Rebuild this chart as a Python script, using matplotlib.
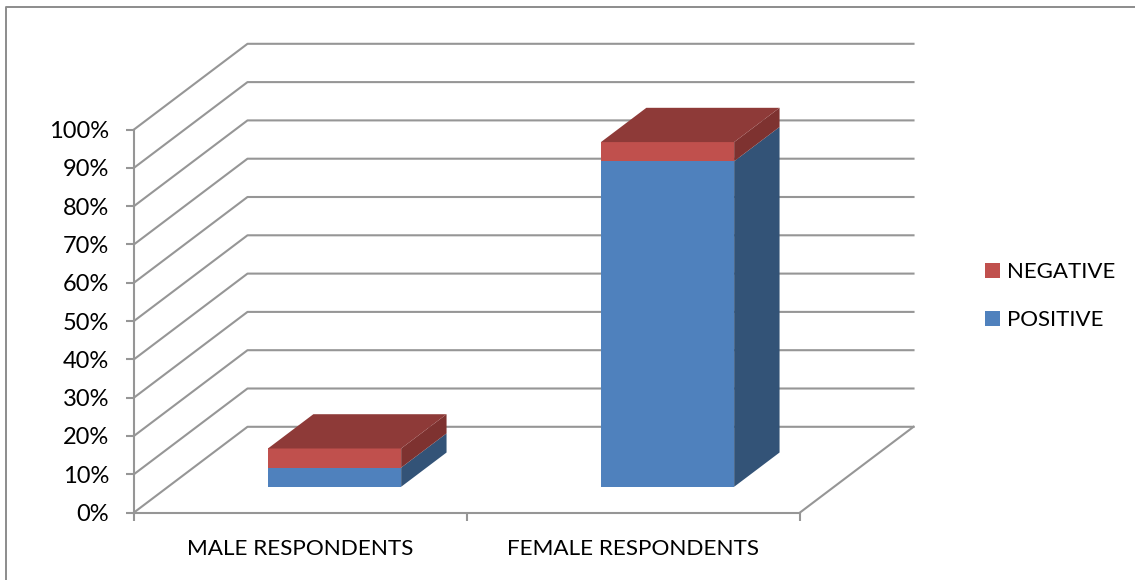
import matplotlib
matplotlib.use("Agg")
from matplotlib import pyplot as plt
from matplotlib.lines import Line2D
from matplotlib.patches import Patch, Polygon

plt.rcParams['font.family'] = ['Lato', 'DejaVu Sans']

# Data
categories = ["MALE RESPONDENTS", "FEMALE RESPONDENTS"]
positive = [5, 85]
negative = [5, 5]
percent_ticks = list(range(0, 101, 10))

W, H = 1135, 580
GRID = "#969696"
BLUE = ("#4F81BD", "#335377")
RED = ("#C0504D", "#7E3230", "#8E3A38")  # front, side, top

# Oblique offset of the back wall, in data units
DEPTH_X = 113.5 / 333
DEPTH_Y = 85.7 / 3.83


def proj(x, y, d):
    # d is 0 at the front of the floor and 1 at the back wall
    return (x + d * DEPTH_X, y + d * DEPTH_Y)


def draw_box(ax, left, right, y0, y1, front, side):
    ax.add_patch(Polygon([proj(left, y0, 0.3), proj(right, y0, 0.3),
                          proj(right, y1, 0.3), proj(left, y1, 0.3)],
                         facecolor=front, edgecolor="none", clip_on=False, zorder=3))
    ax.add_patch(Polygon([proj(right, y0, 0.3), proj(right, y0, 0.7),
                          proj(right, y1, 0.7), proj(right, y1, 0.3)],
                         facecolor=side, edgecolor="none", clip_on=False, zorder=3))


fig = plt.figure(figsize=(W / 100, H / 100), dpi=100)
ax = fig.add_axes([134 / W, 1 - 512.5 / H, 666 / W, 383 / H])
ax.set_xlim(0, len(categories))
ax.set_ylim(0, 100)
ax.patch.set_visible(False)

# Walls and floor
for p in percent_ticks:
    pts = [proj(0, p, 0), proj(0, p, 1), proj(2, p, 1)]
    ax.plot(*zip(*pts), color=GRID, lw=1.5, clip_on=False, zorder=1)
floor = [proj(2, 0, 1), proj(2, 0, 0)]
ax.plot(*zip(*floor), color=GRID, lw=1.5, clip_on=False, zorder=1)

# Stacked bars
for i in range(len(categories)):
    left, right = i + 0.3, i + 0.7
    top = positive[i] + negative[i]
    draw_box(ax, left, right, 0, positive[i], BLUE[0], BLUE[1])
    draw_box(ax, left, right, positive[i], top, RED[0], RED[1])
    ax.add_patch(Polygon([proj(left, top, 0.3), proj(right, top, 0.3),
                          proj(right, top, 0.7), proj(left, top, 0.7)],
                         facecolor=RED[2], edgecolor="none", clip_on=False, zorder=3))

# Axes
for s in ("top", "right"):
    ax.spines[s].set_visible(False)
for s in ("left", "bottom"):
    ax.spines[s].set_color(GRID)
    ax.spines[s].set_linewidth(1.5)
ax.set_yticks(percent_ticks)
ax.set_yticklabels(["%d%%" % p for p in percent_ticks])
ax.set_xticks(range(len(categories) + 1))
ax.set_xticklabels([])
ax.set_xticks([i + 0.5 for i in range(len(categories))], labels=categories, minor=True)
ax.tick_params(axis="y", length=5.8, width=1.5, color=GRID, pad=12, labelsize=17, labelcolor="#000000")
ax.tick_params(axis="x", which="major", length=5.5, width=1.5, color=GRID)
ax.tick_params(axis="x", which="minor", length=0, pad=19, labelsize=16.2, labelcolor="#000000")

# Legend
handles = [Patch(facecolor=RED[0], label="NEGATIVE"), Patch(facecolor=BLUE[0], label="POSITIVE")]
fig.legend(handles=handles, loc="center left", bbox_to_anchor=(985 / W, 1 - 296.5 / H),
           frameon=False, fontsize=16, handlelength=0.68, handleheight=0.68,
           handletextpad=0.3, labelspacing=1.26, borderpad=0, borderaxespad=0)

# Outer border, its right and bottom sides fall outside the crop
fig.add_artist(Line2D([6 / W, 6 / W, 1], [0, 1 - 7 / H, 1 - 7 / H], color="#8C8C8C", lw=1.4))

fig.savefig("out.png", dpi=100)
